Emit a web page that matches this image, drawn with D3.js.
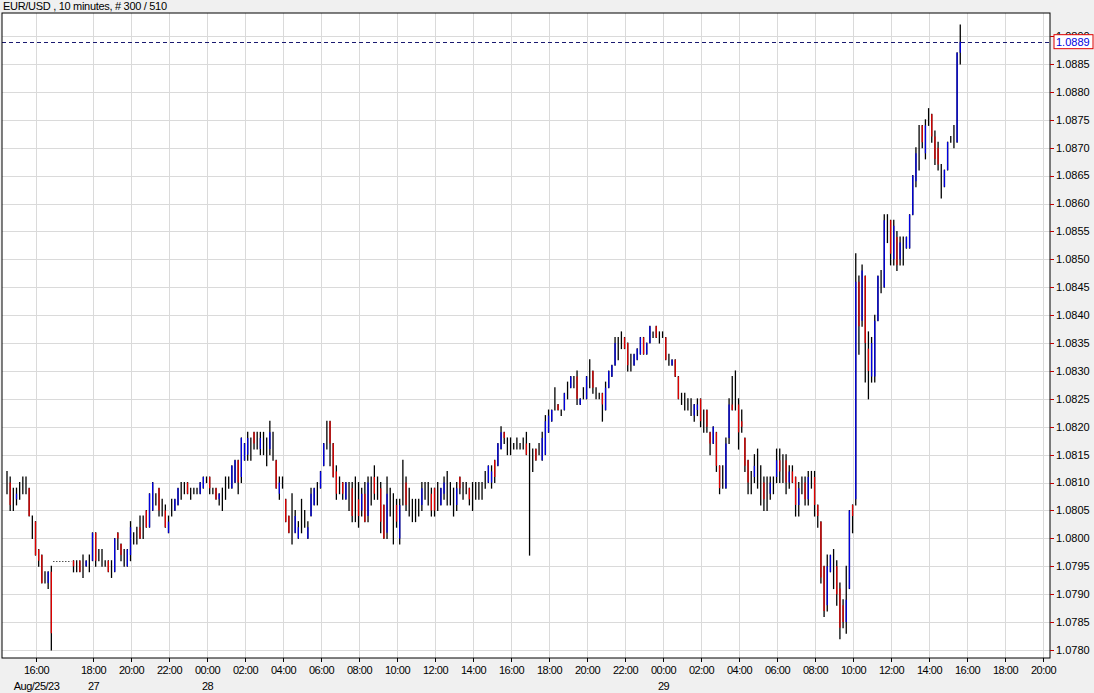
<!DOCTYPE html>
<html>
<head>
<meta charset="utf-8">
<script src="https://cdn.jsdelivr.net/npm/d3@7"></script>
<style>
  body { margin: 0; background: #f0f0f0; }
  svg { display: block; font-family: "Liberation Sans", Arial, sans-serif; }
</style>
</head>
<body>
<svg id="chart" width="1094" height="693"></svg>
<script>
// bars as [high, low, open, close] in pips above 1.0700
const fridayBars = [
  [112,108,110,110],[111,105,110,106],[109,105,107,107],[109,106,107,108],[110,107,108,108],
  [111,108,109,109],[111,108,110,110],[109,104,109,104],[104,100,102,102],[103,97,103,97],
  [98,95,98,96],[97,92,97,92],[94,92,93,93],[94,91,92,94],[95,80,94,83]
];
const weekBars = [
  // Sunday evening
  [96,94,96,95],[96,94,95,95],[96,94,96,94],[97,93,95,95],[96,95,95,96],[97,94,95,95],[101,96,96,101],[101,95,101,96],
  [98,96,97,97],[98,95,96,96],[96,95,95,95],[96,94,96,94],[96,93,95,95],[100,94,94,100],[101,98,101,100],[99,96,99,97],
  [98,95,97,97],[98,95,95,98],[103,96,97,102],[101,99,100,100],[102,99,101,101],[104,100,102,100],[104,100,102,102],
  [105,102,105,102],[108,102,102,108],[110,105,105,110],[108,106,107,107],[109,104,109,105],[107,104,105,105],
  [106,102,105,102],[104,101,101,103],[107,104,105,105],[107,105,105,107],[109,106,106,109],[110,107,108,108],
  [110,108,109,109],[110,108,110,108],[109,107,108,108],[109,108,108,108],[109,108,109,109],
  // Monday
  [110,108,108,110],[111,109,109,111],[111,110,110,110],[111,108,111,109],[109,108,108,108],[109,107,109,107],
  [108,106,107,108],[109,105,107,107],[111,107,109,109],[111,109,110,110],[113,109,109,113],[114,110,110,114],
  [114,108,114,110],[118,110,111,118],[117,114,114,117],[119,114,115,118],[118,114,116,116],[119,116,119,117],
  [119,116,117,117],[119,115,116,118],[119,115,117,117],[118,113,115,115],[121,115,116,119],[119,114,117,117],
  [114,109,114,109],[111,107,108,110],[111,109,110,110],[107,103,107,103],[104,101,104,101],[108,99,103,103],
  [105,101,101,104],[103,100,100,102],[107,101,104,104],[105,102,103,103],[103,100,100,102],[109,104,104,108],
  [109,106,106,109],[110,106,108,108],[112,109,109,112],[117,113,113,117],[121,116,118,118],
  [121,113,121,117],[117,111,117,111],[113,107,112,108],[111,108,109,109],[110,107,110,108],[110,107,107,110],
  [110,105,108,108],[110,103,109,104],[111,103,106,106],[110,102,107,104],[109,104,105,108],[110,103,108,103],
  [111,103,104,110],[111,106,108,108],[113,107,111,108],[111,107,109,109],[110,101,109,103],[106,100,106,100],
  [111,100,101,108],[109,104,106,106],[108,99,104,104],[107,102,106,103],[107,99,100,106],[114,106,109,109],
  [111,105,110,106],[109,104,106,106],[107,103,105,105],[107,103,105,105],[107,104,106,106],[110,105,106,109],
  [110,107,108,108],[110,106,108,108],[109,104,108,105],[109,104,109,105],[110,105,107,107],[109,106,106,109],
  [111,107,108,110],[112,106,109,109],[110,106,108,108],[109,104,106,106],[110,105,106,109],[111,108,111,109],
  [110,107,108,108],[110,108,109,109],[109,106,109,107],[110,105,107,107],[110,107,108,108],[110,107,108,108],
  [110,107,109,109],[112,109,110,110],[113,110,110,113],[113,109,110,112],[114,110,114,111],[117,113,113,117],
  [120,116,116,119],[119,117,119,118],[118,115,117,117],
  [118,115,116,116],[117,116,116,116],[118,116,117,117],[117,116,116,116],[118,116,117,117],[119,115,117,115],
  [117,97,115,115],[116,112,114,114],[116,114,116,114],[117,115,116,116],[119,114,114,118],[122,115,115,121],
  [123,119,119,122],[123,121,121,123],[127,123,125,125],[124,123,124,123],[123,122,122,122],[126,123,123,126],
  [128,125,126,126],[129,127,127,129],[129,127,128,128],[130,124,129,125],[125,124,124,125],[127,125,126,126],
  [129,125,125,129],[132,127,129,129],[130,126,130,127],[127,125,126,126],[126,125,125,125],[126,121,126,124],
  [128,123,123,127],[130,127,127,130],[131,129,129,131],[136,131,131,135],[136,132,134,134],[137,134,135,135],
  [136,134,136,134],[135,130,135,131],[133,130,131,131],[133,131,131,133],[134,132,132,134],[136,133,133,136],
  // Tuesday
  [136,133,136,133],[135,133,133,135],[138,135,135,138],[137,136,136,136],[138,136,138,136],[137,135,136,136],
  [137,136,136,136],[136,132,136,132],[133,131,132,132],[132,131,131,132],[132,129,132,129],[129,125,129,125],
  [126,124,125,125],[126,123,124,124],[125,123,124,124],[125,122,123,123],[124,121,122,124],
  [125,122,123,124],[125,120,125,121],[123,119,121,121],[123,119,123,120],[119,115,119,117],[120,117,117,120],
  [119,112,119,113],[113,108,113,109],[113,109,111,111],[118,109,109,117],[125,117,118,124],[129,123,124,123],
  [130,123,126,126],[125,116,124,119],[123,119,121,120],[118,112,118,113],[114,108,114,110],[112,108,110,110],
  [115,110,111,113],[116,109,112,112],[113,106,110,110],[111,105,110,107],[111,105,108,108],[111,107,108,110],
  [111,108,110,110],[116,110,111,114],[116,110,114,112],[115,110,113,113],[115,108,114,110],[113,109,110,112],
  [113,110,112,110],[111,104,111,106],[110,104,106,109],[111,108,110,110],[111,106,110,107],[112,106,107,111],
  [112,109,110,110],[112,104,111,106],[106,102,106,104],[103,92,103,93],[95,86,95,87],[97,87,88,95],
  [97,94,94,97],[98,91,95,95],[96,88,95,90],[92,82,91,84],[89,84,88,85],[95,83,85,89],[105,91,91,105],
  [106,101,106,104],
  [151,106,107,146],[147,133,146,138],[149,138,139,148],[147,128,147,135],[137,125,134,130],[136,128,129,135],
  [140,128,129,139],[147,139,139,147],[148,144,146,146],[158,145,145,157],[158,153,155,155],[157,149,157,151],
  [157,149,150,156],[155,148,154,149],[154,149,150,153],[154,149,151,151],[154,152,152,154],[158,152,152,158],
  [165,158,158,165],[170,163,164,169],[174,166,170,170],[174,170,174,171],[175,168,169,174],[177,174,175,175],
  [176,171,176,172],[173,167,172,168],[171,166,170,167],[167,161,164,164],[166,163,163,166],[171,166,166,171],
  [172,171,171,171],[174,170,172,172],[187,171,171,187],[192,185,187,189]
];
const weekendGapLevel = 96;
const lastPrice = 1.0889;
const weekStartSlot = 21; // Sunday 17:00
const fridaySlot16 = 9;
const hourLabels = ["18:00","20:00","22:00","00:00","02:00","04:00","06:00","08:00","10:00","12:00","14:00","16:00","18:00",
  "20:00","22:00","00:00","02:00","04:00","06:00","08:00","10:00","12:00","14:00","16:00","18:00","20:00"];
const dateLabels = {0: "27", 3: "28", 15: "29"};
const priceTicks = d3.range(0, 23).map(i => +(1.0780 + i * 0.0005).toFixed(4));

const pip = p => 1.07 + p / 10000;
const bars = fridayBars.map((b, i) => ({slot: i, b}))
  .concat(weekBars.map((b, i) => ({slot: weekStartSlot + i, b})));

const svg = d3.select("#chart");
const pL = 2, pR = 1050, pT = 13, pB = 658;
const x = d3.scaleLinear().domain([0, 330]).range([7, 7 + 330 * 3.167]);
const y = d3.scaleLinear().domain([1.0780, 1.0885]).range([650, 64]);

svg.append("rect").attr("x", pL).attr("y", pT).attr("width", pR - pL).attr("height", pB - pT)
  .attr("fill", "white");

// time ticks
let timeTicks = [{slot: fridaySlot16, label: "16:00", date: "Aug/25/23"}];
hourLabels.forEach((h, k) => timeTicks.push({slot: 27 + 12 * k, label: h, date: dateLabels[k] || ""}));

// grid
svg.append("g").selectAll("line").data(timeTicks).join("line")
  .attr("x1", d => Math.round(x(d.slot)) + 0.5).attr("x2", d => Math.round(x(d.slot)) + 0.5)
  .attr("y1", pT).attr("y2", pB).attr("stroke", "#dadada");
svg.append("g").selectAll("line").data(priceTicks.filter(d => y(d) > pT)).join("line")
  .attr("x1", pL).attr("x2", pR)
  .attr("y1", d => Math.round(y(d)) + 0.5).attr("y2", d => Math.round(y(d)) + 0.5)
  .attr("stroke", "#dadada");

// weekend gap
svg.append("line")
  .attr("x1", x(fridayBars.length - 1) + 2).attr("x2", x(weekStartSlot) - 2)
  .attr("y1", Math.round(y(pip(weekendGapLevel))) + 0.5).attr("y2", Math.round(y(pip(weekendGapLevel))) + 0.5)
  .attr("stroke", "black").attr("stroke-dasharray", "1,2");

// bars: black high-low, coloured open-close part
const g = svg.append("g");
g.selectAll(".hl").data(bars).join("line").attr("class", "hl")
  .attr("x1", d => x(d.slot)).attr("x2", d => x(d.slot))
  .attr("y1", d => y(pip(d.b[0])) - 0.5).attr("y2", d => y(pip(d.b[1])) + 0.5)
  .attr("stroke", "black").attr("stroke-width", 1.3);
g.selectAll(".oc").data(bars.filter(d => d.b[2] !== d.b[3])).join("line").attr("class", "oc")
  .attr("x1", d => x(d.slot)).attr("x2", d => x(d.slot))
  .attr("y1", d => y(pip(d.b[2]))).attr("y2", d => y(pip(d.b[3])))
  .attr("stroke", d => d.b[3] > d.b[2] ? "#0000e0" : "#e00000").attr("stroke-width", 1.3);

// last price line
svg.append("line").attr("x1", pL).attr("x2", pR)
  .attr("y1", Math.round(y(lastPrice)) + 0.5).attr("y2", Math.round(y(lastPrice)) + 0.5)
  .attr("stroke", "#1a1a70").attr("stroke-dasharray", "4,3");

// frame
svg.append("rect").attr("x", pL).attr("y", pT).attr("width", pR - pL).attr("height", pB - pT)
  .attr("fill", "none").attr("stroke", "black");

// right axis
const ya = svg.append("g");
priceTicks.filter(d => y(d) > pT).forEach(d => {
  ya.append("line").attr("x1", pR).attr("x2", pR + 4).attr("y1", Math.round(y(d)) + 0.5).attr("y2", Math.round(y(d)) + 0.5)
    .attr("stroke", "#c00000");
  ya.append("text").attr("x", pR + 6).attr("y", y(d)).attr("dy", "0.35em")
    .attr("font-size", 11).attr("fill", "black").text(d.toFixed(4));
});
ya.append("rect").attr("x", pR + 4).attr("y", y(lastPrice) - 7).attr("width", 39).attr("height", 14)
  .attr("fill", "white").attr("stroke", "#e00000");
ya.append("text").attr("x", pR + 6).attr("y", y(lastPrice)).attr("dy", "0.35em")
  .attr("font-size", 11).attr("fill", "#0000e0").text(lastPrice.toFixed(4));

// bottom axis
const xa = svg.append("g");
timeTicks.forEach(d => {
  const px = Math.round(x(d.slot)) + 0.5;
  xa.append("line").attr("x1", px).attr("x2", px).attr("y1", pB).attr("y2", pB + 4).attr("stroke", "black");
  xa.append("text").attr("x", px).attr("y", pB + 16).attr("text-anchor", "middle")
    .attr("font-size", 11).attr("letter-spacing", -0.5).text(d.label);
  if (d.date) xa.append("text").attr("x", px).attr("y", pB + 32).attr("text-anchor", "middle")
    .attr("font-size", 11).attr("letter-spacing", -0.5).text(d.date);
});

svg.append("text").attr("x", 3).attr("y", 10).attr("font-size", 11).attr("letter-spacing", -0.3)
  .text("EUR/USD , 10 minutes, # 300 / 510");
</script>
</body>
</html>
